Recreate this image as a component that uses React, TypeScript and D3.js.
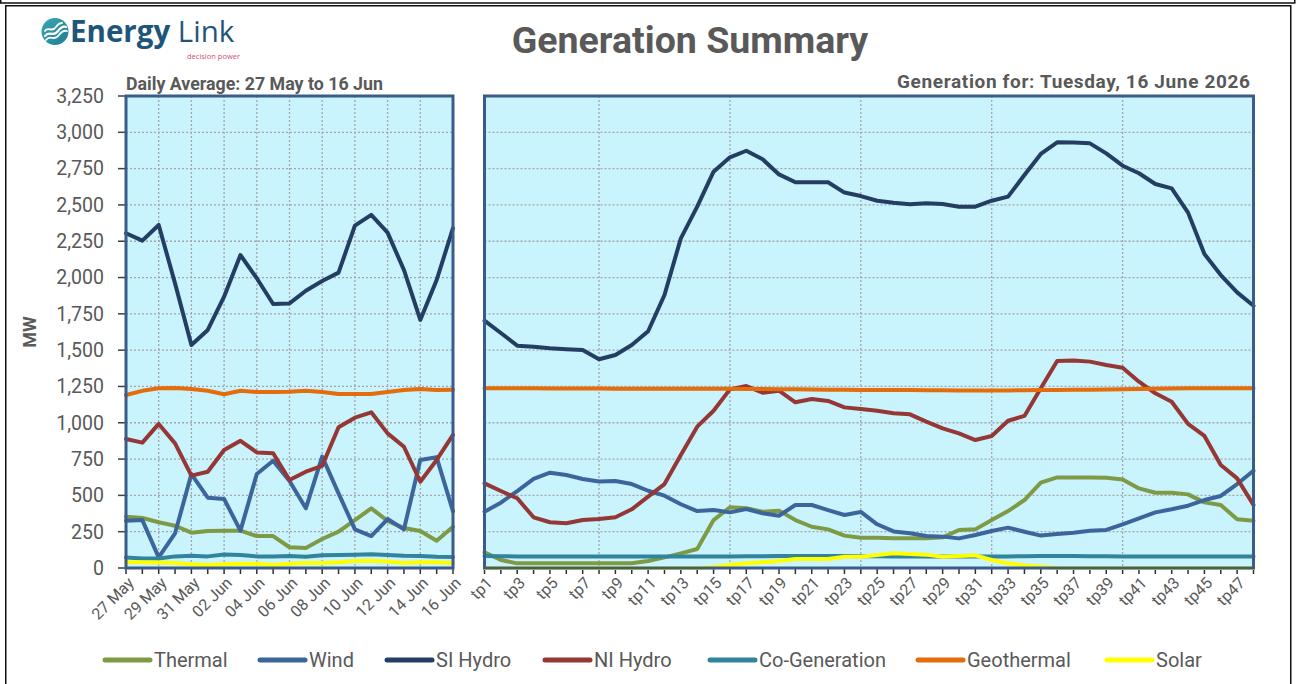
import React from "react";
import * as d3 from "d3";

// ---------- data ----------
const days = ["27 May","28 May","29 May","30 May","31 May","01 Jun","02 Jun","03 Jun","04 Jun","05 Jun","06 Jun","07 Jun","08 Jun","09 Jun","10 Jun","11 Jun","12 Jun","13 Jun","14 Jun","15 Jun","16 Jun"];
const dailyThermal = [353,344,315,291,243,255,257,257,220,220,143,138,200,250,330,411,324,275,255,188,284];
const dailyWind = [326,330,73,239,647,484,475,257,647,739,599,411,767,514,266,220,337,266,744,762,390];
const dailySIHydro = [2305,2254,2362,1960,1535,1639,1868,2155,1995,1818,1822,1909,1976,2034,2357,2431,2309,2052,1708,1983,2340];
const dailyNIHydro = [888,863,992,858,636,663,812,876,796,790,606,663,704,969,1035,1072,927,835,594,744,916];
const dailyCogen = [73,66,66,80,85,80,93,90,80,80,83,78,88,90,92,94,90,85,83,78,76];
const dailyGeo = [1191,1220,1237,1240,1233,1220,1196,1220,1212,1212,1214,1220,1212,1198,1198,1198,1212,1226,1233,1226,1228];
const dailySolar = [40,40,38,35,25,20,25,30,30,20,30,35,35,40,48,50,45,35,40,40,35];

const tps = Array.from({ length: 48 }, (_, i) => `tp${i + 1}`);
const tpThermal = [108,55,32,32,32,32,32,32,32,32,48,73,101,131,330,418,411,388,395,330,284,266,223,209,209,204,204,204,211,262,266,330,392,468,588,624,624,624,622,610,548,518,518,507,452,434,335,326];
const tpWind = [388,450,530,613,656,640,613,595,599,578,532,498,439,392,399,383,406,377,360,434,434,399,365,386,301,252,239,220,216,204,227,255,278,250,223,234,243,257,262,301,342,383,404,429,468,496,578,670];
const tpSIHydro = [1703,1618,1531,1524,1513,1506,1501,1437,1467,1535,1630,1880,2270,2488,2729,2828,2873,2814,2710,2656,2656,2656,2585,2561,2529,2515,2504,2511,2506,2488,2488,2529,2557,2706,2851,2931,2929,2924,2855,2770,2718,2644,2614,2447,2162,2017,1898,1806];
const tpNIHydro = [583,530,480,349,315,308,330,337,349,404,491,578,778,973,1083,1230,1253,1207,1221,1141,1164,1150,1106,1095,1083,1065,1058,1008,962,927,881,909,1014,1047,1237,1425,1428,1421,1398,1379,1283,1203,1145,992,909,709,617,434];
const tpCogen = [82,81,80,80,79,79,79,79,79,79,79,79,79,80,80,80,81,81,82,82,82,82,82,81,81,80,80,80,79,79,79,79,80,81,82,82,82,81,81,80,80,80,80,80,80,80,80,80];
const tpGeo = [1237,1237,1237,1237,1236,1236,1236,1236,1235,1235,1235,1235,1235,1235,1235,1234,1233,1232,1231,1230,1229,1228,1227,1226,1226,1225,1225,1224,1224,1223,1223,1223,1223,1224,1225,1226,1227,1228,1229,1231,1233,1235,1236,1237,1237,1237,1237,1237];
const tpSolar = [0,0,0,0,0,0,0,0,0,0,0,0,0,0,5,20,32,39,48,62,62,62,78,78,89,101,96,92,78,83,87,55,32,18,9,0,0,0,0,0,0,0,0,0,0,0,0,0];

const yTicks = [0,250,500,750,1000,1250,1500,1750,2000,2250,2500,2750,3000,3250];

const seriesNames = ["Thermal","Wind","SI Hydro","NI Hydro","Co-Generation","Geothermal","Solar"];
const seriesColors = ["#7F9A45","#3C659C","#233E62","#953735","#31849B","#E46C0A","#FFFF00"];
const dailySeries = [dailyThermal, dailyWind, dailySIHydro, dailyNIHydro, dailyCogen, dailyGeo, dailySolar];
const tpSeries = [tpThermal, tpWind, tpSIHydro, tpNIHydro, tpCogen, tpGeo, tpSolar];

// ---------- layout ----------
const W = 1296, H = 684;
const top = 96, bottom = 568;
const L = { x0: 126, x1: 453 };
const R = { x0: 484.5, x1: 1253.5 };
const TEXT = "#595959";
const FONT = "Roboto, 'Open Sans', sans-serif";
const BORDER = "#3B5C8A";
const BG = "#C9F3FD";
const GRID = "#A6A6A6";

export default function App() {
  const y = d3.scaleLinear().domain([0, 3250]).range([bottom, top]);
  const xL = d3.scalePoint<string>().domain(days).range([L.x0, L.x1]);
  const xR = d3.scalePoint<string>().domain(tps).range([R.x0, R.x1]);

  const lineL = d3.line<number>().x((_, i) => xL(days[i]) as number).y((d) => y(d));
  const lineR = d3.line<number>().x((_, i) => xR(tps[i]) as number).y((d) => y(d));

  const hGrid = yTicks.filter((t) => t > 0 && t < 3250);
  const vGridL = days.filter((_, i) => i % 2 === 0 && i > 0 && i < days.length - 1);
  const vGridR = tps.filter((_, i) => i % 8 === 7 && i < tps.length - 1);

  const legendX = [105, 260, 387, 545, 710, 918, 1107];

  return (
    <svg width={W} height={H} style={{ position: "absolute", left: 0, top: 0, background: "#fff" }} fontFamily={FONT}>
      <rect x={0} y={0} width={W} height={H} fill="#fff" />
      {/* frame */}
      <rect x={0.75} y={-20} width={1294} height={23} fill="none" stroke="#111" strokeWidth={1.5} />
      <rect x={5.75} y={5.75} width={1285} height={700} fill="none" stroke="#111" strokeWidth={1.5} />

      {/* logo */}
      <g>
        <defs>
          <linearGradient id="lg" x1="0" y1="0" x2="1" y2="1">
            <stop offset="0" stopColor="#3aa6b4" />
            <stop offset="1" stopColor="#1f7f92" />
          </linearGradient>
        </defs>
        <circle cx={55} cy={31.5} r={13.5} fill="url(#lg)" />
        <path d="M45,36 C49,30 53,38 58,31 C61,27 63,26 66,27" fill="none" stroke="#fff" strokeWidth={2.2} strokeLinecap="round" />
        <path d="M46,40 C50,34 54,42 59,35 C62,31 64,30 67,31" fill="none" stroke="#fff" strokeWidth={1.8} strokeLinecap="round" />
        <path d="M45,31 C48,26 52,33 56,27 C58,24 60,23 62,23" fill="none" stroke="#fff" strokeWidth={1.8} strokeLinecap="round" />
        <text x={70} y={42} fontSize={29.5} fill="#1E567A" fontFamily="'Open Sans', sans-serif">
          <tspan fontWeight={700}>Energy</tspan>
          <tspan fontWeight={400}> Link</tspan>
        </text>
        <text x={187} y={59} fontSize={7.5} fill="#D0506E" fontFamily="'Open Sans', sans-serif">decision power</text>
      </g>

      {/* titles */}
      <text x={690} y={53} textAnchor="middle" fontSize={37.5} fontWeight={700} fill={TEXT}>Generation Summary</text>
      <text x={126} y={90} fontSize={17.8} fontWeight={700} fill={TEXT}>Daily Average: 27 May to 16 Jun</text>
      <text x={1250} y={88} textAnchor="end" fontSize={19} fontWeight={700} fill={TEXT} textLength={353} lengthAdjust="spacing">Generation for: Tuesday, 16 June 2026</text>
      <text transform={`translate(36,${(top + bottom) / 2}) rotate(-90)`} textAnchor="middle" fontSize={18} fontWeight={700} fill={TEXT}>MW</text>

      {/* panel backgrounds */}
      <rect x={L.x0} y={top} width={L.x1 - L.x0} height={bottom - top} fill={BG} />
      <rect x={R.x0} y={top} width={R.x1 - R.x0} height={bottom - top} fill={BG} />

      {/* gridlines */}
      <g stroke={GRID} strokeWidth={1.3} strokeDasharray="2,2">
        {hGrid.map((t) => (
          <g key={t}>
            <line x1={L.x0} x2={L.x1} y1={y(t)} y2={y(t)} />
            <line x1={R.x0} x2={R.x1} y1={y(t)} y2={y(t)} />
          </g>
        ))}
        {vGridL.map((d) => (
          <line key={d} x1={xL(d)} x2={xL(d)} y1={top} y2={bottom} />
        ))}
        {vGridR.map((d) => (
          <line key={d} x1={xR(d)} x2={xR(d)} y1={top} y2={bottom} />
        ))}
      </g>

      {/* y axis ticks + labels */}
      <g>
        {yTicks.map((t) => (
          <g key={t}>
            <line x1={118} x2={L.x0} y1={y(t)} y2={y(t)} stroke="#404040" strokeWidth={1.5} />
            <text x={104} y={y(t)} dy="0.35em" textAnchor="end" fontSize={19.5} fill={TEXT}>{d3.format(",")(t)}</text>
          </g>
        ))}
      </g>

      {/* x axis ticks */}
      <g stroke="#303030" strokeWidth={1.5}>
        {days.map((d) => (
          <line key={d} x1={xL(d)} x2={xL(d)} y1={bottom} y2={bottom + 6} />
        ))}
        {tps.map((d) => (
          <line key={d} x1={xR(d)} x2={xR(d)} y1={bottom} y2={bottom + 6} />
        ))}
      </g>
      <g fontSize={16} fill={TEXT}>
        {days.map((d, i) =>
          i % 2 === 0 ? (
            <text key={d} transform={`translate(${(xL(d) as number) + 5},${bottom + 12}) rotate(-45)`} textAnchor="end" dy="0.35em">{d}</text>
          ) : null
        )}
        {tps.map((d, i) =>
          i % 2 === 0 ? (
            <text key={d} transform={`translate(${(xR(d) as number) + 5},${bottom + 12}) rotate(-45)`} textAnchor="end" dy="0.35em">{d}</text>
          ) : null
        )}
      </g>

      {/* series lines */}
      <g fill="none" strokeWidth={4} strokeLinejoin="round" strokeLinecap="round">
        {dailySeries.map((s, i) => (
          <path key={"l" + i} d={lineL(s) as string} stroke={seriesColors[i]} />
        ))}
        {tpSeries.map((s, i) => (
          <path key={"r" + i} d={lineR(s) as string} stroke={seriesColors[i]} />
        ))}
      </g>

      {/* panel borders */}
      <rect x={L.x0} y={top} width={L.x1 - L.x0} height={bottom - top} fill="none" stroke={BORDER} strokeWidth={3} />
      <rect x={R.x0} y={top} width={R.x1 - R.x0} height={bottom - top} fill="none" stroke={BORDER} strokeWidth={3} />

      {/* legend */}
      <g>
        {seriesNames.map((n, i) => (
          <g key={n}>
            <line x1={legendX[i]} x2={legendX[i] + 45} y1={660} y2={660} stroke={seriesColors[i]} strokeWidth={5} strokeLinecap="round" />
            <text x={legendX[i] + 49} y={660} dy="0.36em" fontSize={20} fill={TEXT}>{n}</text>
          </g>
        ))}
      </g>
    </svg>
  );
}
